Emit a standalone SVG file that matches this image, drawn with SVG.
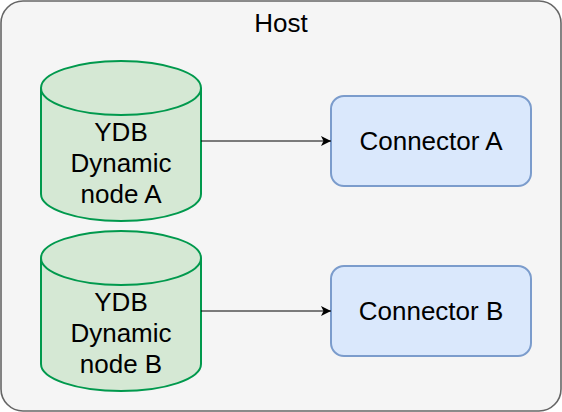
<svg xmlns="http://www.w3.org/2000/svg" width="562" height="412" viewBox="0 0 562 412">
<defs>
<style>
.host{fill:#f5f5f5;stroke:#666666;stroke-width:1.6}
.cyl{fill:#d5e8d4;stroke:#00994d;stroke-width:2}
.box{fill:#dae8fc;stroke:#7b9ccc;stroke-width:2}
.lbl{font-family:"Liberation Sans",Arial,sans-serif;font-size:26px;fill:#000;text-anchor:middle}
.edge{stroke:#000;stroke-width:1;fill:none}
</style>
<marker id="arr" viewBox="0 0 10 10" refX="10" refY="5" markerWidth="10" markerHeight="10" markerUnits="userSpaceOnUse" orient="auto">
<path d="M0,0 L10,5 L0,10 L2.5,5 Z" fill="#000"/>
</marker>
</defs>
<g id="host">
<rect class="host" x="1" y="1" width="560" height="410" rx="22"/>
<text class="lbl" x="281" y="32">Host</text>
</g>
<g id="nodeA">
<path class="cyl" d="M41,88 A80,27 0 0 1 201,88 L201,194 A80,27 0 0 1 41,194 Z"/>
<path class="cyl" d="M41,88 A80,27 0 0 0 201,88" fill="none"/>
<text class="lbl" x="121" y="141">YDB</text>
<text class="lbl" x="121" y="172">Dynamic</text>
<text class="lbl" x="121" y="203">node A</text>
</g>
<g id="nodeB">
<path class="cyl" d="M41,258 A80,27 0 0 1 201,258 L201,364 A80,27 0 0 1 41,364 Z"/>
<path class="cyl" d="M41,258 A80,27 0 0 0 201,258" fill="none"/>
<text class="lbl" x="121" y="311">YDB</text>
<text class="lbl" x="121" y="342">Dynamic</text>
<text class="lbl" x="121" y="373">node B</text>
</g>
<g id="connA">
<rect class="box" x="331" y="96" width="200" height="90" rx="13"/>
<text class="lbl" x="431" y="150">Connector A</text>
</g>
<g id="connB">
<rect class="box" x="331" y="266" width="200" height="90" rx="13"/>
<text class="lbl" x="431" y="320">Connector B</text>
</g>
<g id="edges">
<path class="edge" d="M201,141 L331,141" marker-end="url(#arr)"/>
<path class="edge" d="M201,311 L331,311" marker-end="url(#arr)"/>
</g>
</svg>
